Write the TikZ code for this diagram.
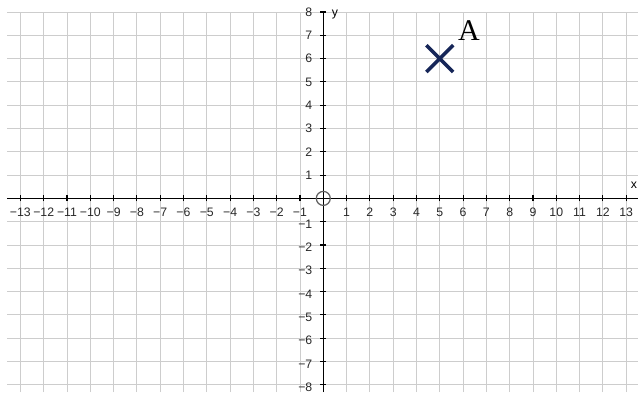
\documentclass[tikz,border=0pt]{standalone}
\usepackage{fontspec}
\setmainfont{Liberation Sans}
\newfontfamily\serifA{Liberation Serif}
\usepackage{tikz}
\usetikzlibrary{shapes.misc,positioning}
\definecolor{gridgray}{RGB}{205,205,205}
\definecolor{ptnavy}{RGB}{22,38,88}
\definecolor{labelgray}{RGB}{40,40,40}
\definecolor{origray}{RGB}{95,95,95}

\begin{document}
\begin{tikzpicture}[x=0.6cm,y=0.6cm]
 \tikzstyle{tick}=[font=\fontsize{9}{10}\selectfont, text=labelgray, inner sep=0pt]
 \tikzstyle{axis}=[black, line width=0.8pt]
 \useasboundingbox (-13.875,-8.309) rectangle (13.506,8.515);
 % grid
 \draw[gridgray, line width=0.7pt, step=1] (-13.57,-8.309) grid (13.506,8);
 % axes
 \coordinate (xl) at (-13.57,0);
 \coordinate (xr) at (13.506,0);
 \coordinate (yt) at (0,8);
 \coordinate (yb) at (0,-8.309);
 \draw[axis] (xl) -- (xr);
 \draw[axis] (yb) -- (yt);
 \node[tick, text=black] (xlab) at (13.33,0.57) {x};
 \node[tick, text=black] (ylab) at (0.5,7.87) {y};
 % ticks and numbers
 \foreach \i in {1,...,13}{
  \draw[axis] (\i,-0.13) -- (\i,0.13);
  \draw[axis] (-\i,-0.13) -- (-\i,0.13);
  \node[tick] (xp\i) at (\i,-0.6) {\i};
  \node[tick] (xn\i) at (-\i,-0.6) {−\i};
 }
 \foreach \j in {1,...,8}{
  \draw[axis] (-0.13,\j) -- (0.13,\j);
  \draw[axis] (-0.13,-\j) -- (0.13,-\j);
  \node[tick, anchor=east] (yp\j) at (-0.46,\j) {\j};
  \node[tick, anchor=east] (yn\j) at (-0.46,-\j-0.1) {−\j};
 }
 % origin
 \node[circle, draw=origray, line width=0.9pt, minimum size=0.36cm, inner sep=0pt] (O) at (0,0) {};
 % point A
 \node[cross out, draw=ptnavy, line width=2.6pt, minimum size=0.6cm, inner sep=0pt] (P) at (5,6) {};
 \node[above right=0.12cm and 0.12cm of P, inner sep=0pt, font=\serifA\fontsize{22}{22}\selectfont] (A) {A};
\end{tikzpicture}
\end{document}
